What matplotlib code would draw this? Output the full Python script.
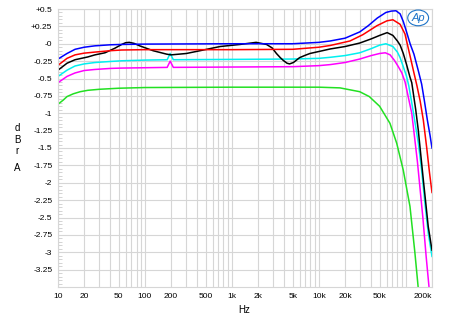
import matplotlib.pyplot as plt
from matplotlib.ticker import FixedLocator, NullFormatter

plt.rcParams['font.family'] = ['Liberation Sans', 'DejaVu Sans']

# frequency response curves (Hz, dBr)
blue_f = [10, 12.7, 15.7, 20, 26.6, 40, 54, 100, 1000, 5000, 10000, 13500, 20000, 29500,
          37000, 47000, 59000, 68000, 77000, 86000, 93500, 102000, 112000, 124000, 140000,
          152000, 163000, 177000, 190000, 200000]
blue_db = [-0.22, -0.14, -0.08, -0.05, -0.03, -0.015, -0.01, -0.005, 0.0, 0.0, 0.02, 0.04, 0.08, 0.17,
           0.26, 0.37, 0.45, 0.47, 0.475, 0.43, 0.32, 0.17, 0.0, -0.15, -0.40,
           -0.58, -0.81, -1.1, -1.32, -1.5]

red_f = [10, 12.7, 15.7, 20, 26.6, 40, 54, 100, 1000, 5000, 10000, 13500, 22800, 32000,
         46600, 60700, 71000, 86000, 97800, 111600, 124000, 134000, 146000, 159000, 174000,
         187000, 200000]
red_db = [-0.31, -0.21, -0.16, -0.135, -0.12, -0.10, -0.09, -0.085, -0.085, -0.08, -0.05, -0.025, 0.04, 0.13,
          0.26, 0.33, 0.345, 0.28, 0.14, -0.17, -0.42, -0.6, -0.82, -1.1, -1.5,
          -1.85, -2.14]

black_f = [10, 12.7, 15.7, 22, 26.6, 34.7, 45, 54, 60, 66, 75, 87, 124, 178, 200, 300, 430, 730,
           1240, 1900, 2500, 2900, 3250, 3600, 3900, 4300, 4600, 5100, 6000, 7000, 7900, 11000,
           13500, 20000, 29500, 40000, 50000, 61000, 71000, 80000, 86000, 93500, 102000, 111600,
           117000, 130000, 139000, 159000, 181000, 200000]
black_db = [-0.38, -0.28, -0.23, -0.19, -0.16, -0.13, -0.065, -0.01, 0.015, 0.02, 0.005, -0.03, -0.10, -0.15, -0.16, -0.14, -0.10, -0.04,
            -0.01, 0.02, -0.01, -0.06, -0.14, -0.2, -0.24, -0.28, -0.29, -0.27, -0.20, -0.165, -0.14, -0.10,
            -0.075, -0.04, 0.01, 0.07, 0.12, 0.16, 0.12, 0.04, -0.02, -0.14, -0.30, -0.48,
            -0.56, -0.95, -1.24, -1.96, -2.63, -2.97]

cyan_f = [10, 12.7, 15.7, 20, 26.6, 40, 54, 100, 180, 195, 212, 1000, 5000, 10000, 13500,
          20000, 29500, 40000, 50000, 59000, 71000, 80000, 86000, 93500, 102000, 108000,
          117000, 127000, 139000, 152000, 166000, 181000, 200000]
cyan_db = [-0.47, -0.38, -0.32, -0.29, -0.27, -0.255, -0.245, -0.235, -0.23, -0.14, -0.23, -0.225, -0.22, -0.21, -0.195,
           -0.17, -0.13, -0.07, -0.02, 0.0, -0.04, -0.12, -0.2, -0.33, -0.47, -0.6,
           -0.85, -1.12, -1.42, -1.82, -2.3, -2.72, -3.06]

magenta_f = [10, 12.7, 15.7, 20, 26.6, 40, 54, 100, 180, 195, 212, 1000, 5000, 10000, 13500,
             20000, 29500, 40000, 50000, 58000, 66000, 74000, 82000, 90000, 98000, 117000,
             136000, 157000, 171000, 188000]
magenta_db = [-0.56, -0.47, -0.42, -0.385, -0.37, -0.355, -0.35, -0.345, -0.34, -0.25, -0.34, -0.335, -0.33, -0.315, -0.30,
              -0.27, -0.22, -0.17, -0.14, -0.13, -0.16, -0.24, -0.33, -0.42, -0.55, -1.0,
              -1.7, -2.5, -3.05, -3.6]

green_f = [10, 11.5, 12.7, 15, 18, 22, 30, 50, 100, 1000, 10000, 17500, 29500, 38000, 50000,
           65700, 78500, 93500, 111600, 127000, 141000]
green_db = [-0.87, -0.81, -0.76, -0.72, -0.69, -0.67, -0.655, -0.64, -0.63, -0.625, -0.625, -0.635, -0.69, -0.76, -0.9,
            -1.145, -1.43, -1.82, -2.34, -3.0, -3.6]

xticks = [10, 20, 50, 100, 200, 500, 1000, 2000, 5000, 10000, 20000, 50000, 200000]
xlabels = ['10', '20', '50', '100', '200', '500', '1k', '2k', '5k', '10k', '20k', '50k', '200k']
yticks = [0.5, 0.25, 0, -0.25, -0.5, -0.75, -1, -1.25, -1.5, -1.75, -2, -2.25, -2.5, -2.75, -3, -3.25]
ylabels = ['+0.5', '+0.25', '-0', '-0.25', '-0.5', '-0.75', '-1', '-1.25', '-1.5', '-1.75', '-2',
           '-2.25', '-2.5', '-2.75', '-3', '-3.25']

fig = plt.figure(figsize=(4.5, 3.19), dpi=100)
ax = fig.add_axes([58/450, 1-287/319, 374/450, 278/319])

# grey grid like the AP plots
minor_x = [m * 10**e for e in range(1, 6) for m in range(1, 10)] + [200000]
ax.set_xscale('log')
ax.xaxis.set_major_locator(FixedLocator(xticks))
ax.xaxis.set_minor_locator(FixedLocator(minor_x))
ax.xaxis.set_minor_formatter(NullFormatter())
ax.set_xticklabels(xlabels)
ax.set_yticks(yticks)
ax.set_yticklabels(ylabels)
ax.set_yticks([-3.5 + 0.05 * i for i in range(81)], minor=True)
ax.grid(which='minor', axis='x', color='#d6d6d6', lw=0.8)
ax.grid(which='major', axis='both', color='#d6d6d6', lw=0.8)
ax.tick_params(axis='x', which='both', length=0, labelsize=6, pad=4)
ax.tick_params(axis='y', which='major', length=0, labelsize=6, pad=4)
ax.tick_params(axis='y', which='minor', length=3, direction='in', color='#cccccc', width=0.6)
ax.get_xticklabels()[-1].set_ha('right')
for s in ax.spines.values():
    s.set_color('#d6d6d6')
    s.set_linewidth(0.8)

lw = 1.1
ax.plot(green_f, green_db, color='#22e022', lw=lw)
ax.plot(magenta_f, magenta_db, color='#ff00ff', lw=lw)
ax.plot(cyan_f, cyan_db, color='#00f0f0', lw=lw)
ax.plot(black_f, black_db, color='black', lw=lw)
ax.plot(red_f, red_db, color='#ff0000', lw=lw)
ax.plot(blue_f, blue_db, color='#0000ff', lw=lw)

ax.set_xlim(10, 200000)
ax.set_ylim(-3.5, 0.5)

# axis captions
for ch, py in [('d', 128), ('B', 140), ('r', 151), ('A', 168)]:
    fig.text(17/450, 1 - py/319, ch, fontsize=7, ha='center', va='center')
fig.text(244/450, 1 - 310/319, 'Hz', fontsize=7, ha='center', va='center')

# Ap logo
ax.text(0.963, 0.968, 'Ap', transform=ax.transAxes, fontsize=8, style='italic',
        color='#1e74c8', ha='center', va='center',
        bbox=dict(boxstyle='ellipse,pad=0.05', fc='white', ec='#1e74c8', lw=0.8))

fig.savefig('out.png', dpi=100)
